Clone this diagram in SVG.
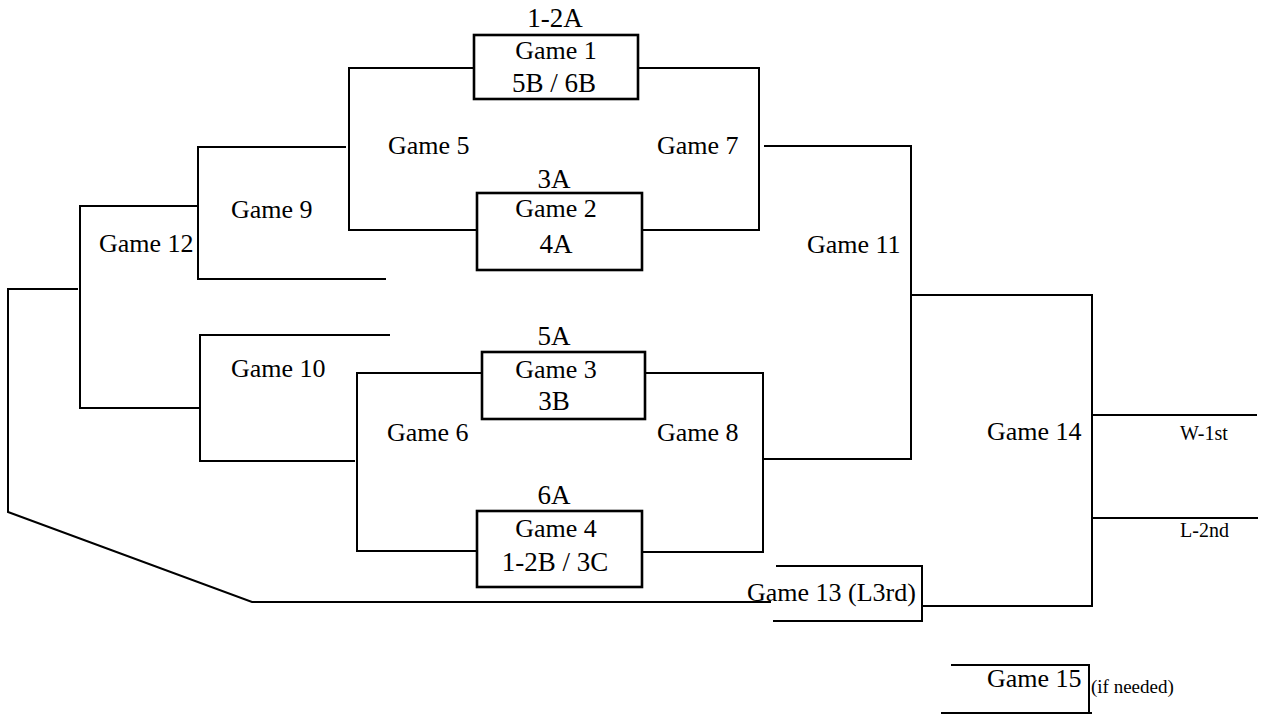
<svg xmlns="http://www.w3.org/2000/svg" width="1264" height="715" viewBox="0 0 1264 715">
<style>
.ln{fill:none;stroke:#000;stroke-width:2;stroke-linecap:square}
.bx{fill:#fff;stroke:#000;stroke-width:2.6}
text{fill:#000}
.g{font-size:26px}
.s{font-size:27px}
.c{text-anchor:middle}
.sm{font-size:19px}
</style>
<rect width="1264" height="715" fill="#fff"/>
<g id="connectors">
<polyline class="ln" points="474,68 349,68 349,230 477,230"/>
<polyline class="ln" points="638,68 759,68 759,230 642,230"/>
<polyline class="ln" points="345,147 198,147 198,279 385,279"/>
<polyline class="ln" points="198,206 80,206 80,408 200,408"/>
<polyline class="ln" points="389,335 200,335 200,461 354,461"/>
<polyline class="ln" points="482,373 357,373 357,551 477,551"/>
<polyline class="ln" points="645,373 763,373 763,552 642,552"/>
<polyline class="ln" points="765,146 911,146 911,459 764,459"/>
<polyline class="ln" points="911,295 1092,295 1092,606 922,606"/>
<line class="ln" x1="1092" y1="415" x2="1256" y2="415"/>
<line class="ln" x1="1092" y1="518" x2="1257" y2="518"/>
<polyline class="ln" points="77,289 8,289 8,512 252,602 770,602"/>
<polyline class="ln" points="777,566 922,566 922,621 774,621"/>
<line class="ln" x1="952" y1="665" x2="1088" y2="665"/>
<line class="ln" x1="1089" y1="665" x2="1089" y2="713"/>
<line class="ln" x1="942" y1="713" x2="1091" y2="713"/>
</g>
<g id="labels" font-family="'Liberation Serif', 'DejaVu Serif', serif">
<g id="game1">
<text class="s c" x="555" y="27">1-2A</text>
<rect class="bx" x="474" y="35" width="164" height="64"/>
<text class="g c" x="556" y="59">Game 1</text>
<text class="s c" x="554" y="92">5B / 6B</text>
</g>
<g id="game2">
<text class="s c" x="554" y="188">3A</text>
<rect class="bx" x="477" y="193" width="165" height="77"/>
<text class="g c" x="556" y="217">Game 2</text>
<text class="s c" x="556" y="253">4A</text>
</g>
<g id="game3">
<text class="s c" x="554" y="345">5A</text>
<rect class="bx" x="482" y="352" width="163" height="67"/>
<text class="g c" x="556" y="378">Game 3</text>
<text class="s c" x="554" y="410">3B</text>
</g>
<g id="game4">
<text class="s c" x="554" y="504">6A</text>
<rect class="bx" x="477" y="511" width="165" height="76"/>
<text class="g c" x="556" y="537">Game 4</text>
<text class="s c" x="555" y="571">1-2B / 3C</text>
</g>
<g id="game5"><text class="g" x="388" y="154">Game 5</text></g>
<g id="game7"><text class="g" x="657" y="154">Game 7</text></g>
<g id="game6"><text class="g" x="387" y="441">Game 6</text></g>
<g id="game8"><text class="g" x="657" y="441">Game 8</text></g>
<g id="game9"><text class="g" x="231" y="218">Game 9</text></g>
<g id="game10"><text class="g" x="231" y="377">Game 10</text></g>
<g id="game12"><text class="g" x="99" y="252">Game 12</text></g>
<g id="game11"><text class="g" x="807" y="253">Game 11</text></g>
<g id="game14"><text class="g" x="987" y="440">Game 14</text></g>
<g id="w1st"><text x="1180" y="440" font-size="20">W-1st</text></g>
<g id="l2nd"><text x="1180" y="537" font-size="20">L-2nd</text></g>
<g id="game13"><text class="g" x="747" y="601">Game 13 (L3rd)</text></g>
<g id="game15"><text class="g" x="987" y="687">Game 15</text><text class="sm" x="1091" y="693">(if needed)</text></g>
</g>
</svg>
